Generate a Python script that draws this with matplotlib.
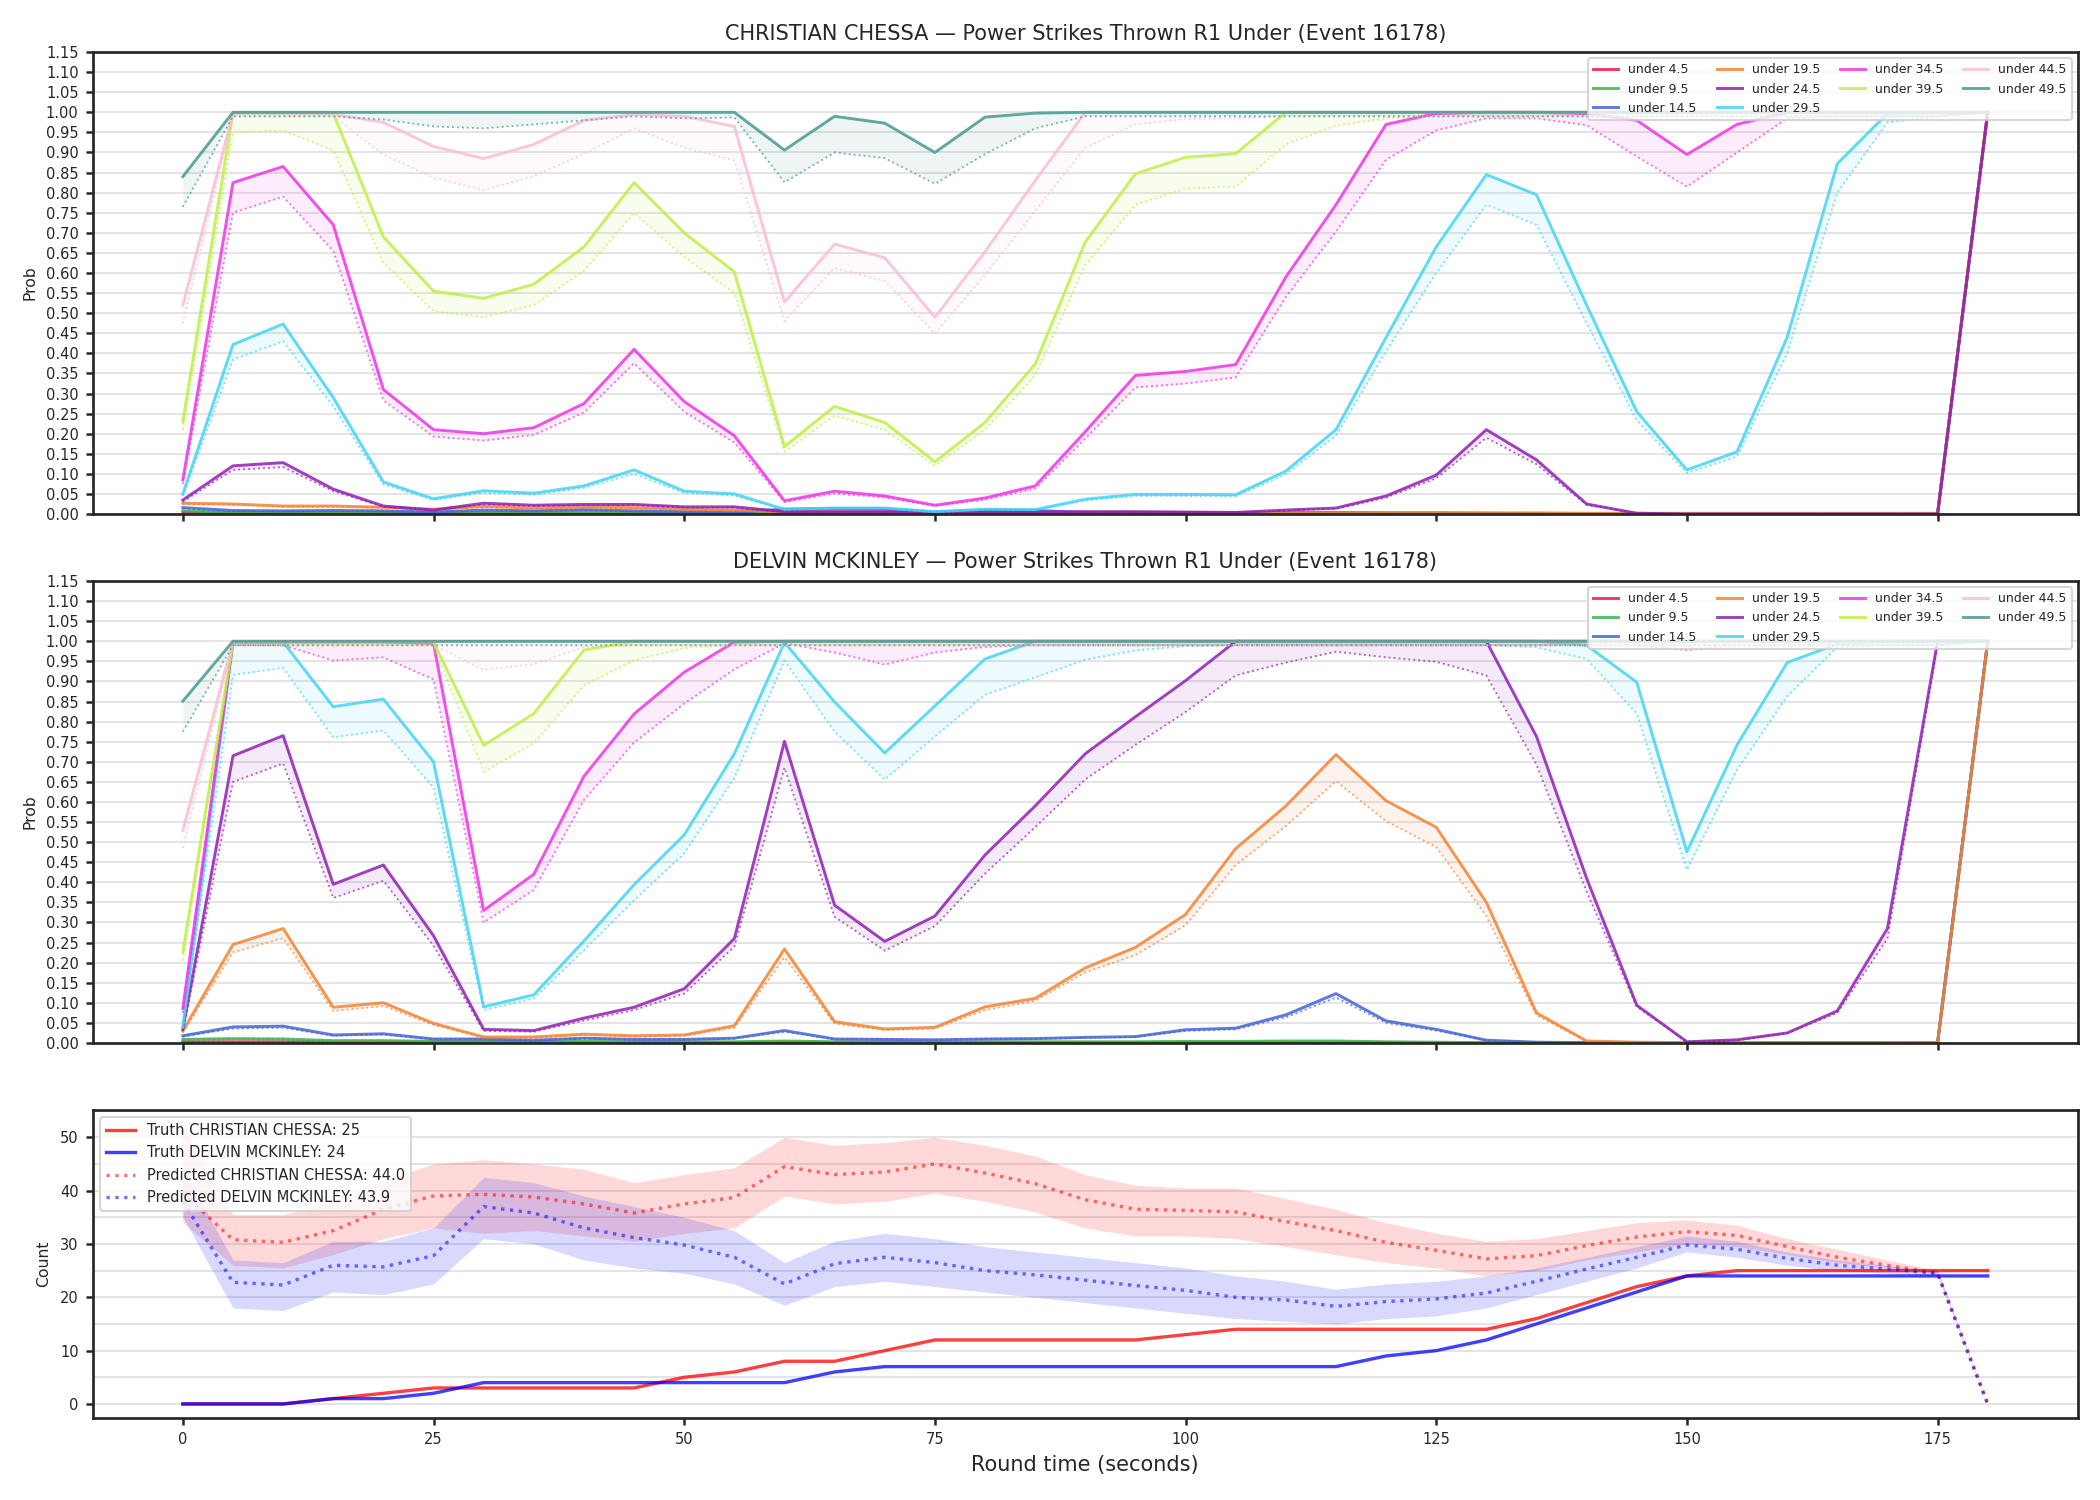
import matplotlib
matplotlib.use("Agg")
import matplotlib.pyplot as plt
from matplotlib.ticker import MultipleLocator, FormatStrFormatter

# round time (seconds)
t = list(range(0, 181, 5))

thresholds = ["under 4.5", "under 9.5", "under 14.5", "under 19.5", "under 24.5",
              "under 29.5", "under 34.5", "under 39.5", "under 44.5", "under 49.5"]
colors = ["#e6194B", "#3cb44b", "#4363d8", "#f58231", "#911eb4",
          "#42d4f4", "#f032e6", "#bfef45", "#fabed4", "#469990"]

# ---- CHRISTIAN CHESSA: prob (solid) and lower (dotted) ----
cc_u45 = [0.004, 0.002, 0.002, 0.002, 0.002, 0.001, 0.002, 0.002, 0.002, 0.002, 0.001, 0.001, 0.001,
          0.001, 0.001, 0, 0, 0, 0, 0, 0, 0, 0, 0, 0, 0, 0, 0, 0, 0, 0, 0, 0, 0, 0, 0, 1.0]
cc_u45_lo = [0.003, 0.002, 0.002, 0.002, 0.002, 0.001, 0.002, 0.002, 0.002, 0.002, 0.001, 0.001, 0.001,
             0.001, 0.001, 0, 0, 0, 0, 0, 0, 0, 0, 0, 0, 0, 0, 0, 0, 0, 0, 0, 0, 0, 0, 0, 1.0]
cc_u95 = [0.008, 0.004, 0.004, 0.004, 0.003, 0.002, 0.004, 0.003, 0.004, 0.003, 0.002, 0.002, 0.002,
          0.003, 0.003, 0.001, 0.002, 0.002, 0.001, 0.001, 0.001, 0.001, 0.001, 0.001, 0.001, 0.001,
          0.001, 0, 0, 0, 0, 0, 0, 0, 0, 0, 1.0]
cc_u95_lo = [0.007, 0.004, 0.004, 0.004, 0.003, 0.002, 0.003, 0.003, 0.003, 0.003, 0.002, 0.002, 0.002,
             0.002, 0.002, 0.001, 0.002, 0.002, 0.001, 0.001, 0.001, 0.001, 0.001, 0.001, 0.001, 0.001,
             0.001, 0, 0, 0, 0, 0, 0, 0, 0, 0, 1.0]
cc_u145 = [0.016, 0.009, 0.008, 0.009, 0.008, 0.005, 0.010, 0.008, 0.011, 0.008, 0.006, 0.005, 0.012,
           0.014, 0.013, 0.005, 0.010, 0.009, 0.004, 0.004, 0.004, 0.003, 0.004, 0.004, 0.003, 0.003,
           0.002, 0.001, 0, 0, 0, 0, 0, 0, 0, 0, 1.0]
cc_u145_lo = [0.014, 0.008, 0.007, 0.008, 0.007, 0.005, 0.009, 0.007, 0.010, 0.007, 0.005, 0.004, 0.011,
              0.012, 0.012, 0.004, 0.009, 0.008, 0.004, 0.004, 0.004, 0.003, 0.004, 0.004, 0.003, 0.003,
              0.002, 0.001, 0, 0, 0, 0, 0, 0, 0, 0, 1.0]
cc_u195 = [0.027, 0.025, 0.020, 0.020, 0.017, 0.012, 0.019, 0.015, 0.018, 0.016, 0.012, 0.010, 0.006,
           0.005, 0.005, 0.003, 0.004, 0.004, 0.003, 0.003, 0.003, 0.003, 0.003, 0.003, 0.003, 0.003,
           0.003, 0.003, 0.002, 0.002, 0.002, 0.002, 0.002, 0.002, 0.002, 0.002, 1.0]
cc_u195_lo = [0.024, 0.023, 0.018, 0.018, 0.015, 0.011, 0.017, 0.014, 0.016, 0.014, 0.011, 0.009, 0.005,
              0.005, 0.005, 0.003, 0.004, 0.004, 0.003, 0.003, 0.003, 0.003, 0.003, 0.003, 0.003, 0.003,
              0.003, 0.003, 0.002, 0.002, 0.002, 0.002, 0.002, 0.002, 0.002, 0.002, 1.0]
cc_u245 = [0.035, 0.120, 0.128, 0.062, 0.020, 0.010, 0.027, 0.022, 0.024, 0.024, 0.018, 0.018, 0.006,
           0.006, 0.006, 0.004, 0.005, 0.005, 0.006, 0.006, 0.005, 0.004, 0.010, 0.015, 0.045, 0.097,
           0.210, 0.135, 0.025, 0.002, 0, 0, 0, 0, 0, 0, 1.0]
cc_u245_lo = [0.031, 0.110, 0.117, 0.057, 0.018, 0.009, 0.024, 0.020, 0.022, 0.022, 0.016, 0.016, 0.005,
              0.005, 0.005, 0.004, 0.004, 0.004, 0.005, 0.005, 0.004, 0.004, 0.009, 0.013, 0.041, 0.089,
              0.190, 0.124, 0.023, 0.002, 0, 0, 0, 0, 0, 0, 1.0]
cc_u295 = [0.050, 0.422, 0.473, 0.290, 0.080, 0.038, 0.058, 0.052, 0.070, 0.110, 0.057, 0.050, 0.012,
           0.015, 0.015, 0.006, 0.012, 0.011, 0.037, 0.049, 0.049, 0.048, 0.107, 0.210, 0.440, 0.665,
           0.845, 0.795, 0.520, 0.255, 0.110, 0.155, 0.440, 0.872, 0.997, 1.0, 1.0]
cc_u295_lo = [0.045, 0.385, 0.430, 0.268, 0.074, 0.035, 0.053, 0.048, 0.065, 0.100, 0.052, 0.046, 0.011,
              0.014, 0.014, 0.005, 0.011, 0.010, 0.034, 0.045, 0.045, 0.044, 0.099, 0.195, 0.405, 0.600,
              0.770, 0.720, 0.475, 0.233, 0.102, 0.143, 0.400, 0.800, 0.975, 0.990, 1.0]
cc_u345 = [0.085, 0.825, 0.865, 0.720, 0.310, 0.210, 0.200, 0.215, 0.275, 0.410, 0.280, 0.195, 0.033,
           0.057, 0.045, 0.022, 0.040, 0.070, 0.205, 0.345, 0.355, 0.372, 0.590, 0.770, 0.970, 0.997,
           1.0, 1.0, 0.997, 0.980, 0.895, 0.970, 1.0, 1.0, 1.0, 1.0, 1.0]
cc_u345_lo = [0.075, 0.750, 0.790, 0.655, 0.283, 0.193, 0.183, 0.197, 0.253, 0.375, 0.255, 0.178, 0.030,
              0.051, 0.041, 0.020, 0.036, 0.063, 0.188, 0.315, 0.325, 0.340, 0.540, 0.703, 0.882, 0.955,
              0.985, 0.985, 0.968, 0.890, 0.815, 0.900, 0.985, 0.990, 0.990, 0.990, 1.0]
cc_u395 = [0.230, 0.998, 0.998, 0.998, 0.690, 0.555, 0.537, 0.572, 0.665, 0.825, 0.700, 0.603, 0.168,
           0.268, 0.228, 0.130, 0.228, 0.373, 0.677, 0.847, 0.888, 0.897, 1.0, 1.0, 1.0, 1.0, 1.0, 1.0,
           1.0, 1.0, 1.0, 1.0, 1.0, 1.0, 1.0, 1.0, 1.0]
cc_u395_lo = [0.210, 0.950, 0.955, 0.905, 0.625, 0.505, 0.490, 0.520, 0.605, 0.750, 0.640, 0.550, 0.155,
              0.245, 0.210, 0.120, 0.210, 0.345, 0.620, 0.770, 0.810, 0.815, 0.920, 0.967, 0.985, 0.990,
              0.990, 0.990, 0.990, 0.990, 0.990, 0.990, 0.990, 0.990, 0.990, 0.990, 1.0]
cc_u445 = [0.520, 0.998, 0.998, 0.995, 0.975, 0.915, 0.885, 0.920, 0.980, 0.995, 0.990, 0.965, 0.528,
           0.672, 0.638, 0.490, 0.653, 0.830, 1.0, 1.0, 1.0, 1.0, 1.0, 1.0, 1.0, 1.0, 1.0, 1.0, 1.0, 1.0,
           1.0, 1.0, 1.0, 1.0, 1.0, 1.0, 1.0]
cc_u445_lo = [0.475, 0.990, 0.990, 0.990, 0.895, 0.837, 0.806, 0.841, 0.896, 0.960, 0.912, 0.880, 0.480,
              0.612, 0.580, 0.449, 0.595, 0.754, 0.912, 0.970, 0.983, 0.985, 0.990, 0.990, 0.990, 0.990,
              0.990, 0.990, 0.990, 0.990, 0.990, 0.990, 0.990, 0.990, 0.990, 0.990, 1.0]
cc_u495 = [0.840, 1.0, 1.0, 1.0, 1.0, 1.0, 1.0, 1.0, 1.0, 1.0, 1.0, 1.0, 0.906, 0.990, 0.973, 0.900,
           0.988, 0.998, 1.0, 1.0, 1.0, 1.0, 1.0, 1.0, 1.0, 1.0, 1.0, 1.0, 1.0, 1.0, 1.0, 1.0, 1.0, 1.0,
           1.0, 1.0, 1.0]
cc_u495_lo = [0.765, 0.990, 0.990, 0.990, 0.982, 0.965, 0.960, 0.970, 0.980, 0.990, 0.985, 0.987, 0.826,
              0.900, 0.886, 0.822, 0.896, 0.960, 0.990, 0.990, 0.990, 0.990, 0.990, 0.990, 0.990, 0.990,
              0.990, 0.990, 0.990, 0.990, 0.990, 0.990, 0.990, 0.990, 0.990, 0.990, 1.0]

# ---- DELVIN MCKINLEY ----
dm_u45 = [0.003, 0.003, 0.003, 0.002, 0.002, 0.002, 0.002, 0.001, 0.001, 0.001, 0.001, 0.001, 0.002,
          0.001, 0.001, 0.001, 0.001, 0.001, 0.001, 0.001, 0.001, 0.001, 0.001, 0.001, 0.001, 0, 0, 0,
          0, 0, 0, 0, 0, 0, 0, 0, 1.0]
dm_u45_lo = [0.002, 0.002, 0.002, 0.002, 0.002, 0.001, 0.001, 0.001, 0.001, 0.001, 0.001, 0.001, 0.001,
             0.001, 0.001, 0.001, 0.001, 0.001, 0.001, 0.001, 0.001, 0.001, 0.001, 0.001, 0.001, 0, 0, 0,
             0, 0, 0, 0, 0, 0, 0, 0, 1.0]
dm_u95 = [0.009, 0.011, 0.010, 0.006, 0.006, 0.004, 0.004, 0.003, 0.004, 0.003, 0.003, 0.003, 0.005,
          0.003, 0.003, 0.002, 0.003, 0.003, 0.003, 0.003, 0.004, 0.004, 0.005, 0.005, 0.003, 0.002,
          0.001, 0, 0, 0, 0, 0, 0, 0, 0, 0, 1.0]
dm_u95_lo = [0.008, 0.010, 0.009, 0.005, 0.005, 0.004, 0.004, 0.003, 0.003, 0.003, 0.003, 0.003, 0.004,
             0.003, 0.003, 0.002, 0.003, 0.003, 0.003, 0.003, 0.003, 0.003, 0.004, 0.004, 0.003, 0.002,
             0.001, 0, 0, 0, 0, 0, 0, 0, 0, 0, 1.0]
dm_u145 = [0.018, 0.040, 0.042, 0.020, 0.023, 0.010, 0.010, 0.007, 0.012, 0.009, 0.009, 0.012, 0.031,
           0.010, 0.009, 0.008, 0.010, 0.011, 0.014, 0.016, 0.033, 0.037, 0.070, 0.123, 0.055, 0.034,
           0.007, 0.002, 0.001, 0, 0, 0, 0, 0, 0, 0, 1.0]
dm_u145_lo = [0.016, 0.036, 0.038, 0.018, 0.021, 0.009, 0.009, 0.006, 0.011, 0.008, 0.008, 0.011, 0.028,
              0.009, 0.008, 0.007, 0.009, 0.010, 0.013, 0.015, 0.030, 0.034, 0.064, 0.113, 0.050, 0.031,
              0.006, 0.002, 0.001, 0, 0, 0, 0, 0, 0, 0, 1.0]
dm_u195 = [0.030, 0.245, 0.285, 0.089, 0.100, 0.049, 0.015, 0.015, 0.022, 0.018, 0.020, 0.043, 0.234,
           0.053, 0.035, 0.039, 0.090, 0.111, 0.187, 0.238, 0.320, 0.484, 0.590, 0.718, 0.603, 0.537,
           0.350, 0.075, 0.005, 0.002, 0.001, 0.001, 0.001, 0.001, 0.001, 0, 1.0]
dm_u195_lo = [0.026, 0.226, 0.261, 0.080, 0.092, 0.045, 0.013, 0.013, 0.020, 0.016, 0.018, 0.038, 0.213,
              0.048, 0.032, 0.036, 0.082, 0.105, 0.176, 0.219, 0.293, 0.443, 0.540, 0.652, 0.552, 0.488,
              0.316, 0.069, 0.004, 0.002, 0.001, 0.001, 0.001, 0.001, 0.001, 0, 1.0]
dm_u245 = [0.034, 0.715, 0.765, 0.395, 0.443, 0.267, 0.034, 0.031, 0.062, 0.089, 0.135, 0.260, 0.751,
           0.343, 0.253, 0.316, 0.468, 0.590, 0.720, 0.812, 0.902, 1.0, 1.0, 1.0, 1.0, 1.0, 1.0, 0.763,
           0.410, 0.094, 0.003, 0.008, 0.025, 0.080, 0.285, 1.0, 1.0]
dm_u245_lo = [0.030, 0.650, 0.696, 0.361, 0.404, 0.242, 0.030, 0.028, 0.056, 0.082, 0.123, 0.240, 0.685,
              0.314, 0.230, 0.291, 0.422, 0.537, 0.656, 0.742, 0.824, 0.915, 0.947, 0.974, 0.960, 0.949,
              0.915, 0.693, 0.377, 0.090, 0.003, 0.007, 0.024, 0.075, 0.260, 0.990, 1.0]
dm_u295 = [0.041, 0.998, 0.998, 0.837, 0.856, 0.700, 0.090, 0.120, 0.254, 0.394, 0.518, 0.720, 0.997,
           0.849, 0.722, 0.839, 0.956, 1.0, 1.0, 1.0, 1.0, 1.0, 1.0, 1.0, 1.0, 1.0, 1.0, 1.0, 0.990,
           0.898, 0.476, 0.742, 0.947, 0.993, 1.0, 1.0, 1.0]
dm_u295_lo = [0.035, 0.916, 0.934, 0.761, 0.778, 0.636, 0.082, 0.111, 0.231, 0.355, 0.472, 0.660, 0.952,
              0.775, 0.656, 0.763, 0.867, 0.910, 0.954, 0.977, 0.988, 0.990, 0.990, 0.990, 0.990, 0.990,
              0.990, 0.985, 0.956, 0.820, 0.431, 0.680, 0.863, 0.985, 0.990, 0.990, 1.0]
dm_u345 = [0.086, 0.998, 0.998, 0.998, 0.998, 0.995, 0.330, 0.420, 0.664, 0.819, 0.923, 0.998, 1.0, 1.0,
           1.0, 1.0, 1.0, 1.0, 1.0, 1.0, 1.0, 1.0, 1.0, 1.0, 1.0, 1.0, 1.0, 1.0, 1.0, 1.0, 1.0, 1.0,
           1.0, 1.0, 1.0, 1.0, 1.0]
dm_u345_lo = [0.075, 0.990, 0.990, 0.952, 0.960, 0.905, 0.300, 0.381, 0.605, 0.748, 0.845, 0.930, 0.995,
              0.972, 0.942, 0.972, 0.986, 0.990, 0.990, 0.990, 0.990, 0.990, 0.990, 0.990, 0.990, 0.990,
              0.990, 0.990, 0.990, 0.990, 0.978, 0.990, 0.990, 0.990, 0.990, 0.990, 1.0]
dm_u395 = [0.226, 0.998, 0.998, 0.998, 0.998, 0.998, 0.741, 0.820, 0.978, 1.0, 1.0, 1.0, 1.0, 1.0, 1.0,
           1.0, 1.0, 1.0, 1.0, 1.0, 1.0, 1.0, 1.0, 1.0, 1.0, 1.0, 1.0, 1.0, 1.0, 1.0, 1.0, 1.0, 1.0,
           1.0, 1.0, 1.0, 1.0]
dm_u395_lo = [0.205, 0.990, 0.990, 0.990, 0.990, 0.990, 0.675, 0.746, 0.890, 0.953, 0.983, 0.990, 0.990,
              0.990, 0.990, 0.990, 0.990, 0.990, 0.990, 0.990, 0.990, 0.990, 0.990, 0.990, 0.990, 0.990,
              0.990, 0.990, 0.990, 0.990, 0.990, 0.990, 0.990, 0.990, 0.990, 0.990, 1.0]
dm_u445 = [0.529, 1.0, 1.0, 1.0, 1.0, 1.0, 1.0, 1.0, 1.0, 1.0, 1.0, 1.0, 1.0, 1.0, 1.0, 1.0, 1.0, 1.0,
           1.0, 1.0, 1.0, 1.0, 1.0, 1.0, 1.0, 1.0, 1.0, 1.0, 1.0, 1.0, 1.0, 1.0, 1.0, 1.0, 1.0, 1.0, 1.0]
dm_u445_lo = [0.486, 0.990, 0.990, 0.990, 0.990, 0.990, 0.929, 0.943, 0.985, 0.990, 0.990, 0.990, 0.990,
              0.990, 0.990, 0.990, 0.990, 0.990, 0.990, 0.990, 0.990, 0.990, 0.990, 0.990, 0.990, 0.990,
              0.990, 0.990, 0.990, 0.990, 0.990, 0.990, 0.990, 0.990, 0.990, 0.990, 1.0]
dm_u495 = [0.851, 1.0, 1.0, 1.0, 1.0, 1.0, 1.0, 1.0, 1.0, 1.0, 1.0, 1.0, 1.0, 1.0, 1.0, 1.0, 1.0, 1.0,
           1.0, 1.0, 1.0, 1.0, 1.0, 1.0, 1.0, 1.0, 1.0, 1.0, 1.0, 1.0, 1.0, 1.0, 1.0, 1.0, 1.0, 1.0, 1.0]
dm_u495_lo = [0.775, 0.990, 0.990, 0.990, 0.990, 0.990, 0.990, 0.990, 0.990, 0.990, 0.990, 0.990, 0.990,
              0.990, 0.990, 0.990, 0.990, 0.990, 0.990, 0.990, 0.990, 0.990, 0.990, 0.990, 0.990, 0.990,
              0.990, 0.990, 0.990, 0.990, 0.990, 0.990, 0.990, 0.990, 0.990, 0.990, 1.0]

# ---- counts ----
cc_truth = [0, 0, 0, 1, 2, 3, 3, 3, 3, 3, 5, 6, 8, 8, 10, 12, 12, 12, 12, 12, 13, 14, 14, 14, 14, 14,
            14, 16, 19, 22, 24, 25, 25, 25, 25, 25, 25]
dm_truth = [0, 0, 0, 1, 1, 2, 4, 4, 4, 4, 4, 4, 4, 6, 7, 7, 7, 7, 7, 7, 7, 7, 7, 7, 9, 10, 12, 15, 18,
            21, 24, 24, 24, 24, 24, 24, 24]
cc_pred = [39.5, 30.8, 30.3, 32.5, 36.5, 39.0, 39.3, 38.8, 37.5, 35.8, 37.5, 38.7, 44.5, 43.0, 43.5,
           45.0, 43.3, 41.3, 38.3, 36.5, 36.3, 36.0, 34.2, 32.5, 30.3, 28.8, 27.2, 27.8, 29.7, 31.3,
           32.3, 31.6, 29.5, 27.5, 26.0, 24.5, 0]
cc_pred_lo = [34.0, 26.0, 25.5, 28.0, 31.0, 33.0, 32.0, 32.5, 31.5, 30.5, 32.0, 33.0, 39.0, 37.5, 38.0,
              39.5, 38.0, 36.0, 33.0, 31.5, 31.5, 31.0, 29.5, 28.0, 26.5, 25.5, 24.0, 25.0, 27.0, 28.5,
              30.0, 29.5, 28.0, 26.5, 25.5, 24.5, 0]
cc_pred_hi = [52.5, 35.5, 35.5, 38.0, 42.0, 45.0, 45.8, 45.0, 44.0, 41.5, 43.0, 44.3, 50.0, 48.5, 49.0,
              50.0, 48.5, 46.5, 43.0, 41.0, 40.5, 40.5, 38.5, 36.5, 34.0, 32.0, 30.5, 31.0, 32.5, 34.0,
              34.5, 33.5, 31.0, 29.0, 27.0, 25.0, 0]
dm_pred = [38.0, 22.8, 22.3, 26.0, 25.7, 27.8, 37.0, 35.8, 33.0, 31.2, 29.8, 27.5, 22.5, 26.3, 27.5,
           26.5, 25.0, 24.2, 23.2, 22.2, 21.3, 20.0, 19.5, 18.3, 19.2, 19.7, 20.8, 23.0, 25.3, 27.5,
           29.8, 29.0, 27.3, 26.0, 25.3, 24.5, 0]
dm_pred_lo = [35.0, 18.0, 17.5, 21.0, 20.5, 22.5, 31.0, 30.0, 27.0, 25.5, 24.5, 22.5, 18.5, 22.0, 23.0,
              22.0, 21.0, 20.0, 19.0, 18.0, 17.0, 16.0, 15.5, 15.0, 16.0, 16.5, 18.0, 20.5, 23.0, 25.5,
              28.5, 27.5, 26.0, 25.0, 24.5, 24.0, 0]
dm_pred_hi = [44.0, 27.0, 26.5, 30.5, 30.5, 33.0, 42.5, 41.5, 39.0, 37.0, 35.0, 32.5, 26.5, 30.5, 32.0,
              31.0, 29.5, 28.5, 27.5, 26.5, 25.5, 24.0, 23.0, 21.5, 22.5, 23.0, 24.0, 25.5, 27.5, 29.5,
              31.5, 30.5, 28.5, 27.0, 26.0, 25.0, 0]

cc_probs = [(cc_u45, cc_u45_lo), (cc_u95, cc_u95_lo), (cc_u145, cc_u145_lo), (cc_u195, cc_u195_lo),
            (cc_u245, cc_u245_lo), (cc_u295, cc_u295_lo), (cc_u345, cc_u345_lo), (cc_u395, cc_u395_lo),
            (cc_u445, cc_u445_lo), (cc_u495, cc_u495_lo)]
dm_probs = [(dm_u45, dm_u45_lo), (dm_u95, dm_u95_lo), (dm_u145, dm_u145_lo), (dm_u195, dm_u195_lo),
            (dm_u245, dm_u245_lo), (dm_u295, dm_u295_lo), (dm_u345, dm_u345_lo), (dm_u395, dm_u395_lo),
            (dm_u445, dm_u445_lo), (dm_u495, dm_u495_lo)]

ink = "#262626"
plt.rcParams.update({
    "axes.edgecolor": ink, "axes.linewidth": 1.3,
    "xtick.color": ink, "ytick.color": ink,
    "xtick.major.size": 3.2, "ytick.major.size": 3.2,
    "xtick.major.width": 1.2, "ytick.major.width": 1.2,
    "text.color": ink, "axes.labelcolor": ink,
})

fig, axes = plt.subplots(3, 1, figsize=(14, 10), dpi=150, sharex=True,
                         gridspec_kw={"height_ratios": [3, 3, 2]})
fig.subplots_adjust(left=0.0441, right=0.9895, top=0.9653, bottom=0.0547, hspace=0.163)


def prob_panel(ax, probs, name):
    for (p, lo), lab, c in zip(probs, thresholds, colors):
        ax.plot(t, p, color=c, lw=1.4, alpha=0.85, label=lab)
        ax.plot(t, lo, color=c, lw=0.9, ls=":", alpha=0.7)
        ax.fill_between(t, lo, p, color=c, alpha=0.09, lw=0)
    ax.set_ylim(0, 1.15)
    ax.yaxis.set_major_locator(MultipleLocator(0.05))
    ax.yaxis.set_major_formatter(FormatStrFormatter("%.2f"))
    ax.grid(axis="y", color="#e3e3e3", lw=0.9)
    ax.set_axisbelow(True)
    ax.tick_params(labelsize=7)
    ax.set_ylabel("Prob", fontsize=7.5)
    ax.set_title(f"{name} \u2014 Power Strikes Thrown R1 Under (Event 16178)", fontsize=10)
    ax.legend(loc="upper right", ncol=4, fontsize=6, framealpha=0.8, edgecolor="#cccccc",
              columnspacing=1.6, handlelength=2.0)


prob_panel(axes[0], cc_probs, "CHRISTIAN CHESSA")
prob_panel(axes[1], dm_probs, "DELVIN MCKINLEY")

ax = axes[2]
ax.fill_between(t, cc_pred_lo, cc_pred_hi, color="red", alpha=0.15, lw=0)
ax.fill_between(t, dm_pred_lo, dm_pred_hi, color="blue", alpha=0.15, lw=0)
ax.plot(t, cc_truth, color="red", lw=1.6, alpha=0.75, label="Truth CHRISTIAN CHESSA: 25")
ax.plot(t, dm_truth, color="blue", lw=1.6, alpha=0.75, label="Truth DELVIN MCKINLEY: 24")
ax.plot(t, cc_pred, color="red", lw=1.6, ls=":", alpha=0.55, label="Predicted CHRISTIAN CHESSA: 44.0")
ax.plot(t, dm_pred, color="blue", lw=1.6, ls=":", alpha=0.55, label="Predicted DELVIN MCKINLEY: 43.9")
ax.yaxis.set_major_locator(MultipleLocator(10))
ax.yaxis.set_minor_locator(MultipleLocator(5))
ax.tick_params(axis="y", which="minor", length=0)
ax.grid(axis="y", which="both", color="#e3e3e3", lw=0.9)
ax.set_axisbelow(True)
ax.tick_params(labelsize=7)
ax.set_ylabel("Count", fontsize=7.5)
ax.set_xlabel("Round time (seconds)", fontsize=10)
ax.xaxis.set_major_locator(MultipleLocator(25))
ax.legend(loc="upper left", fontsize=7, framealpha=0.8, edgecolor="#cccccc")

fig.savefig("out.png", dpi=150)
